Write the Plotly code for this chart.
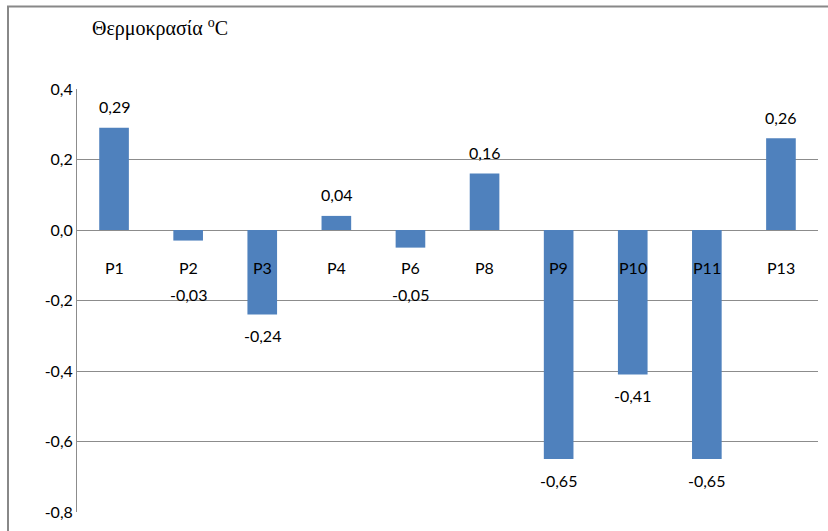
import plotly.graph_objects as go

# Temperature change per station
stations = ["P1", "P2", "P3", "P4", "P6", "P8", "P9", "P10", "P11", "P13"]
temps = [0.29, -0.03, -0.24, 0.04, -0.05, 0.16, -0.65, -0.41, -0.65, 0.26]

y_ticks = [-0.8, -0.6, -0.4, -0.2, 0.0, 0.2, 0.4]
y_tick_text = ["-0,8", "-0,6", "-0,4", "-0,2", "0,0", "0,2", "0,4"]

BAR_COLOR = "#4F81BD"
AXIS_GRAY = "#8C8C8C"
LABEL_FONT = dict(family="Lato", size=16, color="#000000")

# plot geometry (px) used to keep value labels clear of the category labels
PLOT_H = 426
Y_SPAN = 1.2
PX_PER_UNIT = PLOT_H / Y_SPAN


def fmt(v):
    return f"{v:.2f}".replace(".", ",")


fig = go.Figure()
fig.add_trace(go.Bar(
    x=stations,
    y=temps,
    marker=dict(color=BAR_COLOR, line=dict(width=0)),
    hoverinfo="skip",
))

annotations = []
# value labels above positive bars, below negative bars
for s, v in zip(stations, temps):
    if v >= 0:
        shift = 21
    else:
        depth = abs(v) * PX_PER_UNIT
        shift = -(max(depth + 21, 65) - depth)
    annotations.append(dict(
        x=s, y=v, xref="x", yref="y", text=fmt(v), showarrow=False,
        yshift=shift, yanchor="middle", font=LABEL_FONT,
    ))

# category labels sit just under the zero line
for s in stations:
    annotations.append(dict(
        x=s, y=0, xref="x", yref="y", text=s, showarrow=False,
        yshift=-37, yanchor="middle", font=LABEL_FONT,
    ))

# chart title
annotations.append(dict(
    x=(90 - 77) / 741, y=1 + (89 - 27) / 426, xref="paper", yref="paper",
    text="Θερμοκρασία <sup>o</sup>C", showarrow=False,
    xanchor="left", yanchor="middle",
    font=dict(family="Liberation Serif", size=20, color="#000000"),
))

fig.update_layout(
    width=828,
    height=531,
    margin=dict(l=77, r=10, t=89, b=16),
    paper_bgcolor="white",
    plot_bgcolor="white",
    showlegend=False,
    bargap=0.6,
    annotations=annotations,
    shapes=[
        # outer chart frame
        dict(type="rect", xref="paper", yref="paper",
             x0=(8 - 77) / 741, x1=1 + 20 / 741,
             y0=-30 / 426, y1=1 + (89 - 6) / 426,
             line=dict(color="#888888", width=2), fillcolor="rgba(0,0,0,0)",
             layer="below"),
    ],
    xaxis=dict(
        showticklabels=False,
        showgrid=False,
        zeroline=False,
        showline=False,
        ticks="",
    ),
    yaxis=dict(
        range=[-0.8, 0.4],
        tickvals=y_ticks,
        ticktext=y_tick_text,
        tickfont=LABEL_FONT,
        showgrid=True,
        gridcolor=AXIS_GRAY,
        gridwidth=1,
        zeroline=True,
        zerolinecolor=AXIS_GRAY,
        zerolinewidth=1,
        showline=True,
        linecolor=AXIS_GRAY,
        linewidth=1,
        ticks="",
        ticklen=0,
    ),
)

fig.write_html("out.html")
